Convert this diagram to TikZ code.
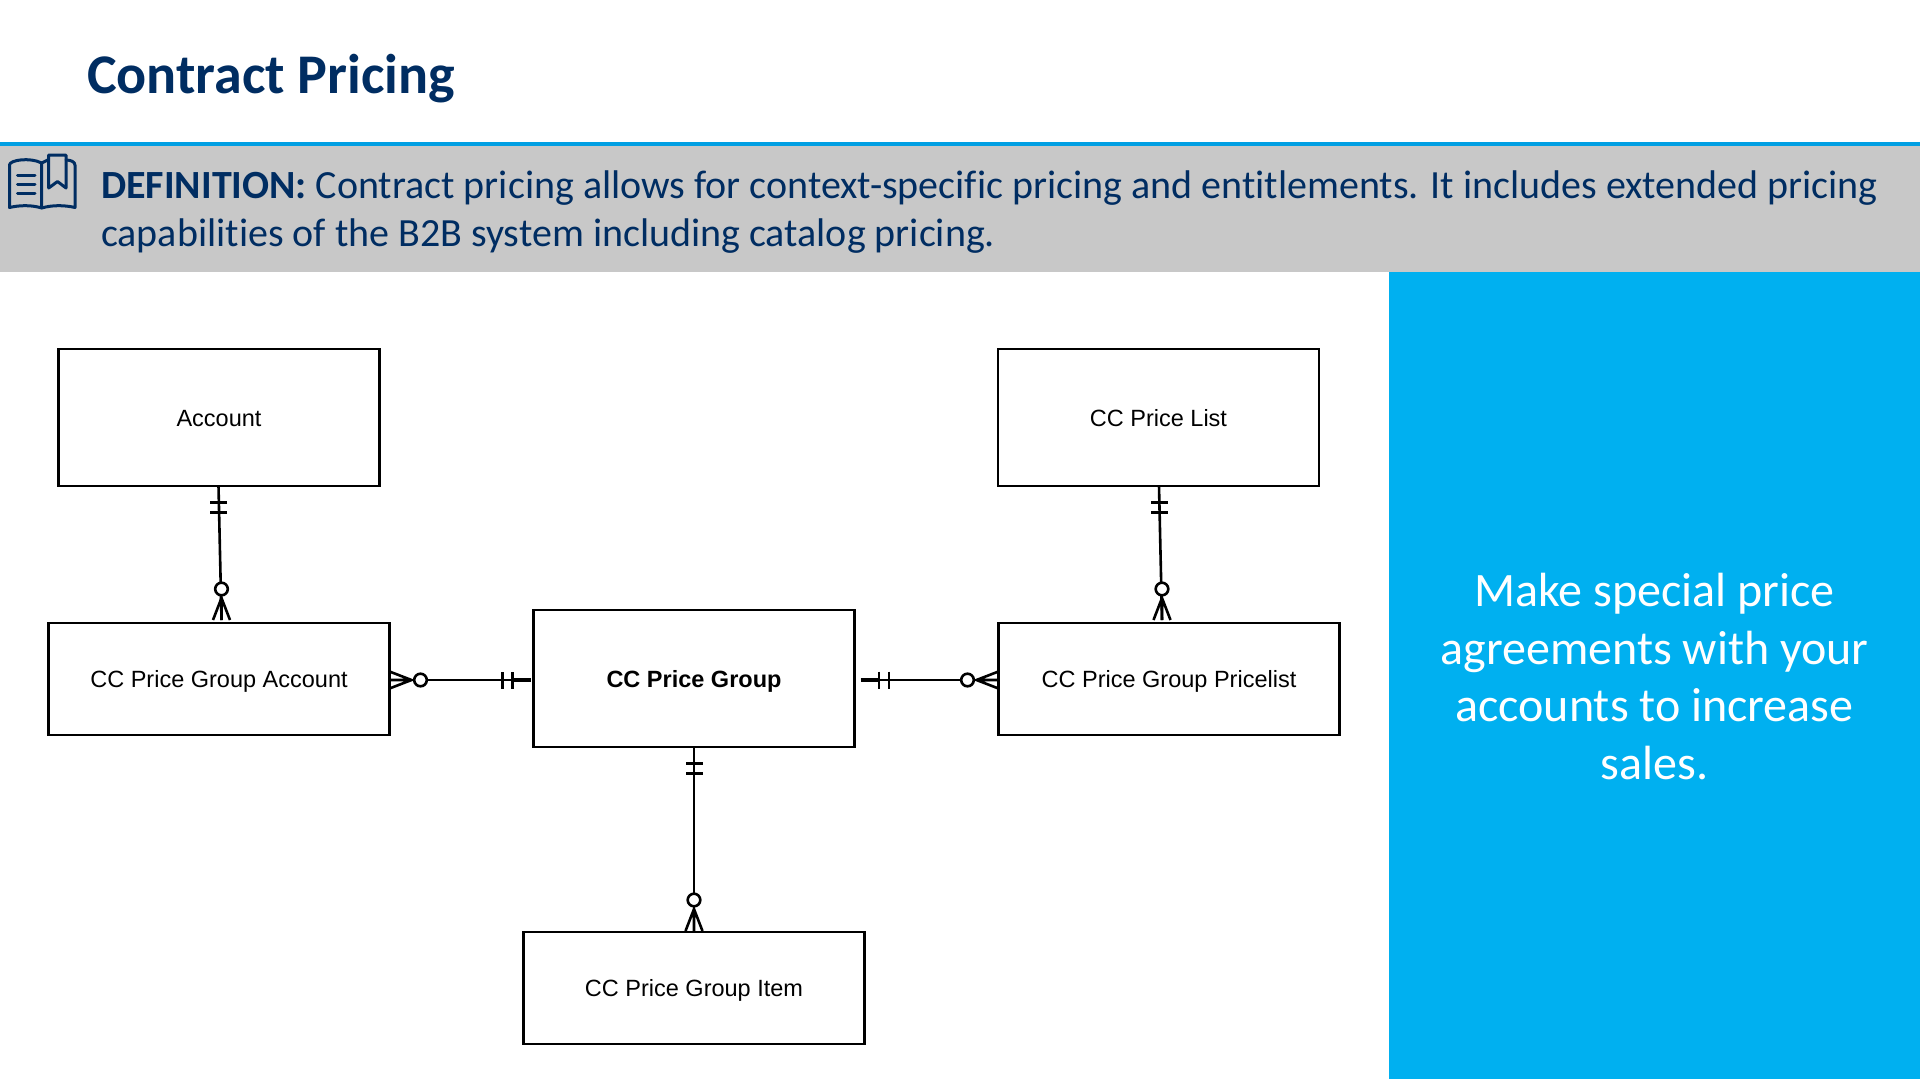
\documentclass[tikz,border=0pt]{standalone}
\usepackage{fontspec}
\setmainfont[Ligatures=CommonOff]{Carlito}
\newfontfamily\boxfont{Liberation Sans}
\definecolor{navy}{HTML}{002D62}
\definecolor{band}{HTML}{C8C8C8}
\definecolor{rule}{HTML}{009FE3}
\definecolor{panel}{HTML}{00B0F0}
\tikzset{
  x=1pt,y=-1pt,
  entity/.style={draw=black,line width=2.2pt,fill=white,inner sep=0pt,outer sep=0pt,text height=17pt,text depth=0pt,font=\boxfont\fontsize{23.5}{28}\selectfont,text=black},
  er/.style={draw=black,line width=2.6pt},
  crowfoot/.pic={\draw[er] (0,-8.5)--(22,0)--(0,8.5) (0,0)--(22,0); \draw[er,fill=white] (31,0) circle (6.3);},
  bars/.pic={\draw[er] (17,-8.5)--(17,8.5) (27,-8.5)--(27,8.5);}
}
\begin{document}
\begin{tikzpicture}
\useasboundingbox (0,0) rectangle (1920,1080);
\fill[white] (0,0) rectangle (1920,1080);
% bands
\fill[band] (0,146) rectangle (1920,272);
\fill[rule] (0,142) rectangle (1920,146);
\fill[panel] (1389,272) rectangle (1920,1079);
% title
\node[anchor=base west,inner sep=0pt,text=navy,font=\bfseries\fontsize{56}{64}\selectfont] (title) at (87,93.5) {Contract Pricing};
% definition
\node[anchor=base west,inner sep=0pt,text=navy,font=\fontsize{40}{49}\selectfont] (defa) at (101,198) {\textbf{DEFINITION:} Contract pricing allows for context-specific pricing and entitlements. It includes extended pricing};
\node[anchor=base west,inner sep=0pt,text=navy,font=\fontsize{40}{49}\selectfont] (defb) at (101,246) {capabilities of the B2B system including catalog pricing.};
% icon
\begin{scope}[navy,line width=3pt,line join=round,line cap=round]
\draw (41.7,208) .. controls (32,205) and (20,205) .. (9.5,207.5) -- (9.5,165) .. controls (9.5,160) and (30,157) .. (41.7,163) -- (41.7,208);
\draw (41.7,208) .. controls (52,205) and (64,205) .. (75,207.5) -- (75,165) .. controls (75,162) and (71,160) .. (66,160);
\draw (41.7,163) -- (48.7,159.5);
\draw (48.7,188) -- (48.7,155) -- (66,155) -- (66,188) -- (57.5,181.5) -- cycle;
\draw (17.5,175) -- (35,175) (17.5,184) -- (35,184) (17.5,193) -- (35,193);
\end{scope}
% panel text
\node[anchor=base,inner sep=0pt,text=white,font=\fontsize{48}{57}\selectfont] (pa) at (1654.5,606) {Make special price};
\node[anchor=base,inner sep=0pt,text=white,font=\fontsize{48}{57}\selectfont] (pb) at (1654.5,664) {agreements with your};
\node[anchor=base,inner sep=0pt,text=white,font=\fontsize{48}{57}\selectfont] (pc) at (1654.5,721) {accounts to increase};
\node[anchor=base,inner sep=0pt,text=white,font=\fontsize{48}{57}\selectfont] (pd) at (1654.5,779) {sales.};
% entities
\node[entity,minimum width=321pt,minimum height=136.5pt] (account) at (219,417.5) {Account};
\node[entity,minimum width=321pt,minimum height=136.5pt] (pricelist) at (1158.5,417.5) {CC Price List};
\node[entity,minimum width=341pt,minimum height=112pt] (gpa) at (219,679) {CC Price Group Account};
\node[entity,minimum width=321pt,minimum height=136.5pt,font=\boxfont\bfseries\fontsize{23.5}{28}\selectfont] (group) at (694,678.5) {CC Price Group};
\node[entity,minimum width=341pt,minimum height=112pt] (gpp) at (1169,679) {CC Price Group Pricelist};
\node[entity,minimum width=341pt,minimum height=112pt] (item) at (694,988) {CC Price Group Item};
% connectors
\draw[er] ([xshift=-0.5pt]account.south) -- ([xshift=2.5pt,yshift=3pt]gpa.north);
\pic at ([xshift=-0.5pt]account.south) [rotate=-90] {bars};
\pic at ([xshift=2.5pt,yshift=3pt]gpa.north) [rotate=90] {crowfoot};
\draw[er] ([xshift=0.5pt]pricelist.south) -- ([xshift=-7pt,yshift=3pt]gpp.north);
\pic at ([xshift=0.5pt]pricelist.south) [rotate=-90] {bars};
\pic at ([xshift=-7pt,yshift=3pt]gpp.north) [rotate=90] {crowfoot};
\draw[er] (group.south) -- ([yshift=1pt]item.north);
\pic at (group.south) [rotate=-90] {bars};
\pic at ([yshift=1pt]item.north) [rotate=90] {crowfoot};
\draw[er] ([yshift=-1pt]gpa.east) -- ([xshift=-3pt,yshift=-1.5pt]group.west);
\draw[line width=3.4pt] ([xshift=-21pt,yshift=-1.5pt]group.west) -- ([xshift=-3pt,yshift=-1.5pt]group.west);
\pic at ([yshift=-1pt]gpa.east) {crowfoot};
\pic at ([xshift=-4pt,yshift=-1.5pt]group.west) [rotate=180] {bars};
\draw[er] ([xshift=6pt,yshift=-1.5pt]group.east) -- ([yshift=-1pt]gpp.west);
\draw[line width=3.4pt] ([xshift=6pt,yshift=-1.5pt]group.east) -- ([xshift=25pt,yshift=-1.5pt]group.east);
\pic at ([yshift=-1pt]gpp.west) [rotate=180] {crowfoot};
\pic at ([xshift=7.5pt,yshift=-1.5pt]group.east) {bars};
\end{tikzpicture}
\end{document}
